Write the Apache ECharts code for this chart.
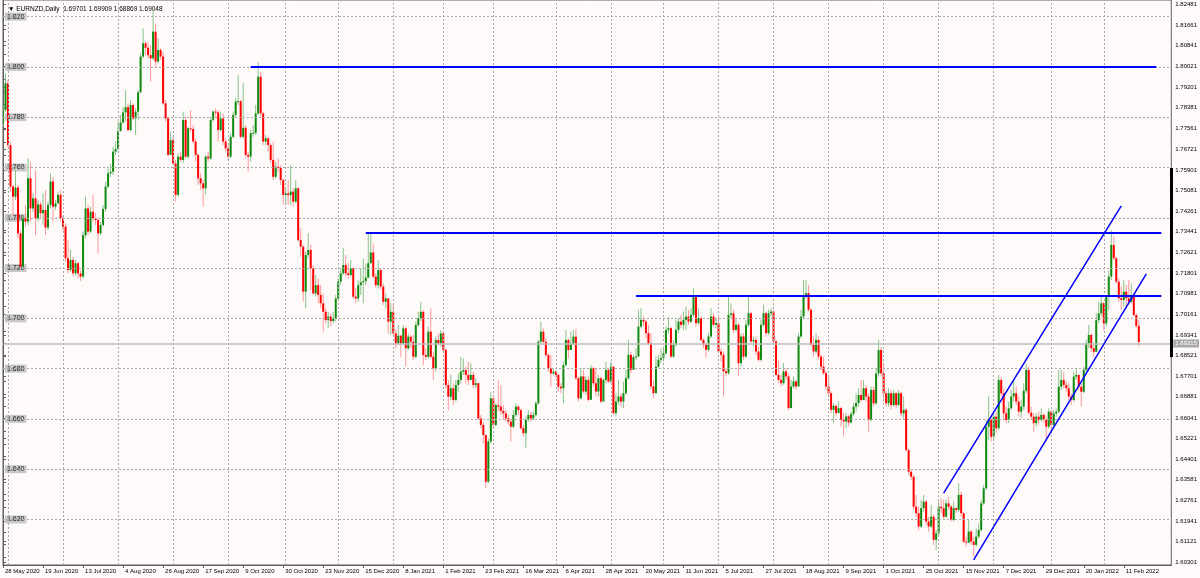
<!DOCTYPE html>
<html><head><meta charset="utf-8">
<script src="https://cdn.jsdelivr.net/npm/echarts@6/dist/echarts.min.js"></script>
<style>html,body{margin:0;padding:0;background:#fffafa;}#c{width:1200px;height:578px;}</style>
</head><body><div id="c"></div>
<script>
// ---------- chart text ----------
const symbolName = 'EURNZD,Daily';
const headerValues = ['1.69701', '1.69909', '1.68869', '1.69048'];

// ---------- x axis (bar index based) ----------
const dateLabels = ['28 May 2020','19 Jun 2020','13 Jul 2020','4 Aug 2020','26 Aug 2020','17 Sep 2020','9 Oct 2020','30 Oct 2020','23 Nov 2020','15 Dec 2020','8 Jan 2021','1 Feb 2021','23 Feb 2021','16 Mar 2021','6 Apr 2021','28 Apr 2021','20 May 2021','11 Jun 2021','5 Jul 2021','27 Jul 2021','18 Aug 2021','9 Sep 2021','1 Oct 2021','25 Oct 2021','15 Nov 2021','7 Dec 2021','29 Dec 2021','20 Jan 2022','11 Feb 2022'];
const labelEveryBars = 16;
const monthStartBars = [2,24,46,68,90,113,134,156,176,196,221,243,264,286,308,330,352,374,396,419,440];

// ---------- price axis labels ----------
const rightAxisLabels = [1.82481,1.81661,1.80841,1.80021,1.79201,1.78381,1.77561,1.76721,1.75901,1.75081,1.74261,1.73441,1.72621,1.71801,1.70981,1.70161,1.69341,1.68521,1.67701,1.66881,1.66041,1.65221,1.64401,1.63581,1.62761,1.61941,1.61121,1.60301];
const leftLevels = [1.620,1.640,1.660,1.680,1.700,1.720,1.740,1.760,1.780,1.800,1.820];
const leftMinorTicks = [1.605,1.610,1.615,1.620,1.625,1.630,1.635,1.640,1.645,1.650,1.655,1.660,1.665,1.670,1.675,1.680,1.685,1.690,1.695,1.700,1.705,1.710,1.715,1.720,1.725,1.730,1.735,1.740,1.745,1.750,1.755,1.760,1.765,1.770,1.775,1.780,1.785,1.790,1.795,1.800,1.805,1.810,1.815,1.820,1.825];
const bidPrice = 1.69215;
const priceScaleMarker = [1.7598, 1.6846];

// ---------- daily OHLC (bar 0 = 28 May 2020) ----------
const opens = [
1.7775,1.7828,1.7935,1.7689,1.7524,1.7484,1.7520,1.7338,1.7206,1.7398,
1.7385,1.7557,1.7437,1.7477,1.7398,1.7453,1.7418,1.7431,1.7361,1.7451,
1.7544,1.7444,1.7457,1.7491,1.7398,1.7365,1.7239,1.7192,1.7232,1.7179,
1.7219,1.7179,1.7166,1.7331,1.7437,1.7345,1.7424,1.7398,1.7391,1.7338,
1.7371,1.7435,1.7524,1.7577,1.7583,1.7663,1.7673,1.7745,1.7779,1.7819,
1.7840,1.7749,1.7848,1.7795,1.7822,1.7899,1.8041,1.8094,1.8076,1.8047,
1.8034,1.8140,1.8021,1.8067,1.8041,1.7855,1.7795,1.7650,1.7709,1.7616,
1.7491,1.7643,1.7630,1.7789,1.7643,1.7756,1.7753,1.7703,1.7650,1.7557,
1.7537,1.7517,1.7643,1.7636,1.7789,1.7822,1.7819,1.7749,1.7795,1.7703,
1.7676,1.7643,1.7722,1.7809,1.7862,1.7864,1.7722,1.7758,1.7650,1.7643,
1.7736,1.7738,1.7815,1.7961,1.7815,1.7703,1.7716,1.7689,1.7630,1.7563,
1.7603,1.7599,1.7550,1.7491,1.7497,1.7490,1.7504,1.7464,1.7517,1.7311,
1.7285,1.7106,1.7252,1.7272,1.7199,1.7099,1.7132,1.7093,1.7060,1.7026,
1.6993,1.7007,1.6989,1.7000,1.7079,1.7146,1.7179,1.7212,1.7179,1.7172,
1.7199,1.7086,1.7079,1.7132,1.7143,1.7148,1.7162,1.7219,1.7262,1.7166,
1.7132,1.7192,1.7126,1.7066,1.7079,1.6987,1.7026,1.6940,1.6900,1.6931,
1.6900,1.6960,1.6881,1.6927,1.6907,1.6847,1.6973,1.7000,1.7026,1.6854,
1.6847,1.6947,1.6847,1.6801,1.6914,1.6900,1.6940,1.6874,1.6735,1.6688,
1.6722,1.6675,1.6735,1.6755,1.6788,1.6794,1.6775,1.6755,1.6775,1.6735,
1.6742,1.6602,1.6576,1.6536,1.6350,1.6510,1.6682,1.6576,1.6655,1.6649,
1.6632,1.6622,1.6602,1.6589,1.6569,1.6616,1.6649,1.6635,1.6563,1.6543,
1.6596,1.6616,1.6602,1.6616,1.6662,1.6907,1.6947,1.6907,1.6854,1.6801,
1.6781,1.6788,1.6775,1.6728,1.6722,1.6814,1.6914,1.6874,1.6900,1.6927,
1.6762,1.6682,1.6769,1.6709,1.6755,1.6676,1.6802,1.6742,1.6709,1.6762,
1.6669,1.6755,1.6795,1.6749,1.6808,1.6623,1.6669,1.6689,1.6669,1.6702,
1.6762,1.6855,1.6795,1.6846,1.6848,1.6967,1.6994,1.6987,1.6941,1.6901,
1.6729,1.6702,1.6808,1.6835,1.6842,1.6861,1.6954,1.6961,1.6848,1.6895,
1.6954,1.6987,1.6974,1.6994,1.7007,1.6987,1.7014,1.7087,1.6981,1.7001,
1.6914,1.6895,1.6875,1.6928,1.7007,1.6974,1.6981,1.6868,1.6855,1.6789,
1.6782,1.7014,1.7020,1.6954,1.6974,1.6822,1.6928,1.6848,1.6974,1.7020,
1.6908,1.6914,1.6868,1.6835,1.6974,1.7020,1.6941,1.7020,1.7027,1.6908,
1.6775,1.6755,1.6742,1.6789,1.6769,1.6643,1.6729,1.6749,1.6729,1.6928,
1.7007,1.7093,1.7100,1.7034,1.6895,1.6868,1.6914,1.6848,1.6808,1.6782,
1.6729,1.6702,1.6636,1.6652,1.6623,1.6643,1.6596,1.6590,1.6610,1.6586,
1.6620,1.6649,1.6663,1.6695,1.6675,1.6722,1.6689,1.6596,1.6715,1.6662,
1.6781,1.6874,1.6781,1.6702,1.6662,1.6702,1.6655,1.6702,1.6655,1.6702,
1.6622,1.6636,1.6476,1.6390,1.6370,1.6251,1.6225,1.6172,1.6245,1.6271,
1.6192,1.6172,1.6211,1.6119,1.6145,1.6251,1.6245,1.6211,1.6264,1.6251,
1.6198,1.6245,1.6238,1.6298,1.6225,1.6112,1.6108,1.6152,1.6112,1.6099,
1.6132,1.6158,1.6264,1.6324,1.6569,1.6596,1.6529,1.6609,1.6563,1.6755,
1.6702,1.6622,1.6596,1.6642,1.6689,1.6702,1.6669,1.6629,1.6649,1.6712,
1.6795,1.6625,1.6609,1.6583,1.6609,1.6596,1.6616,1.6596,1.6569,1.6629,
1.6576,1.6622,1.6629,1.6728,1.6755,1.6735,1.6722,1.6689,1.6675,1.6768,
1.6775,1.6728,1.6708,1.6795,1.6901,1.6934,1.6881,1.6867,1.6993,1.7020,
1.7060,1.6980,1.7086,1.7166,1.7292,1.7239,1.7146,1.7080,1.7073,1.7106,
1.7080,1.7066,1.7086,1.7013,1.6970];
const highs = [
1.7848,1.7974,1.7948,1.7703,1.7530,1.7590,1.7530,1.7351,1.7411,1.7451,
1.7636,1.7623,1.7497,1.7590,1.7471,1.7464,1.7497,1.7510,1.7464,1.7577,
1.7563,1.7471,1.7504,1.7510,1.7411,1.7378,1.7312,1.7272,1.7245,1.7232,
1.7225,1.7192,1.7345,1.7484,1.7451,1.7444,1.7491,1.7418,1.7398,1.7385,
1.7451,1.7544,1.7597,1.7616,1.7683,1.7703,1.7782,1.7809,1.7842,1.7908,
1.7855,1.7868,1.7855,1.7835,1.7908,1.8054,1.8153,1.8100,1.8100,1.8087,
1.8222,1.8173,1.8113,1.8074,1.8060,1.7868,1.7802,1.7742,1.7722,1.7630,
1.7656,1.7663,1.7822,1.7802,1.7762,1.7828,1.7769,1.7716,1.7656,1.7577,
1.7550,1.7650,1.7663,1.7802,1.7828,1.7835,1.7828,1.7822,1.7815,1.7716,
1.7689,1.7736,1.7822,1.7875,1.7968,1.7868,1.7935,1.7769,1.7663,1.7749,
1.7769,1.7848,1.8018,1.7981,1.7822,1.7729,1.7722,1.7696,1.7703,1.7623,
1.7636,1.7610,1.7557,1.7517,1.7550,1.7610,1.7517,1.7550,1.7523,1.7358,
1.7292,1.7265,1.7338,1.7292,1.7212,1.7172,1.7159,1.7132,1.7099,1.7040,
1.7026,1.7020,1.7026,1.7093,1.7159,1.7199,1.7281,1.7252,1.7219,1.7232,
1.7205,1.7119,1.7152,1.7199,1.7238,1.7219,1.7338,1.7345,1.7298,1.7179,
1.7232,1.7199,1.7139,1.7099,1.7073,1.7060,1.7060,1.6954,1.6973,1.6934,
1.6973,1.6967,1.6940,1.6934,1.6934,1.6987,1.7026,1.7066,1.7033,1.6881,
1.6967,1.7040,1.6867,1.6927,1.6940,1.6954,1.6947,1.6881,1.6755,1.6775,
1.6742,1.6755,1.6781,1.6847,1.6841,1.6808,1.6828,1.6821,1.6788,1.6761,
1.6742,1.6616,1.6589,1.6529,1.6523,1.6708,1.6682,1.6662,1.6755,1.6735,
1.6655,1.6635,1.6616,1.6602,1.6635,1.6662,1.6655,1.6642,1.6576,1.6609,
1.6635,1.6629,1.6629,1.6669,1.6914,1.6987,1.6960,1.6920,1.6861,1.6854,
1.6801,1.6794,1.6781,1.6742,1.6828,1.6954,1.6920,1.6947,1.6954,1.6957,
1.6769,1.6802,1.6795,1.6769,1.6769,1.6815,1.6808,1.6802,1.6775,1.6769,
1.6762,1.6828,1.6802,1.6828,1.6795,1.6702,1.6755,1.6702,1.6749,1.6795,
1.6914,1.6868,1.6855,1.6881,1.7034,1.7040,1.7007,1.6994,1.6974,1.6941,
1.6755,1.6848,1.6855,1.6881,1.6888,1.6967,1.7007,1.6967,1.6914,1.6994,
1.7001,1.7014,1.7027,1.7047,1.7034,1.7040,1.7120,1.7093,1.7040,1.7007,
1.6921,1.6901,1.6941,1.7040,1.7020,1.7001,1.7007,1.6881,1.6868,1.6802,
1.7093,1.7060,1.7034,1.7001,1.6981,1.6941,1.6941,1.6994,1.7093,1.7027,
1.6928,1.6928,1.6888,1.6994,1.7054,1.7027,1.7034,1.7040,1.7034,1.6914,
1.6835,1.6775,1.6822,1.6802,1.6782,1.6755,1.6769,1.6755,1.6941,1.7034,
1.7153,1.7153,1.7133,1.7040,1.6928,1.6941,1.6928,1.6855,1.6848,1.6789,
1.6769,1.6709,1.6663,1.6656,1.6669,1.6649,1.6623,1.6623,1.6616,1.6629,
1.6663,1.6702,1.6722,1.6755,1.6755,1.6735,1.6702,1.6728,1.6728,1.6801,
1.6914,1.6887,1.6821,1.6715,1.6722,1.6715,1.6715,1.6708,1.6715,1.6708,
1.6689,1.6642,1.6483,1.6397,1.6377,1.6298,1.6251,1.6278,1.6298,1.6278,
1.6211,1.6258,1.6218,1.6158,1.6271,1.6284,1.6278,1.6278,1.6291,1.6258,
1.6271,1.6251,1.6344,1.6311,1.6231,1.6132,1.6198,1.6158,1.6132,1.6165,
1.6185,1.6278,1.6337,1.6596,1.6689,1.6609,1.6622,1.6629,1.6775,1.6768,
1.6722,1.6649,1.6669,1.6715,1.6755,1.6728,1.6689,1.6675,1.6742,1.6821,
1.6808,1.6649,1.6622,1.6622,1.6629,1.6642,1.6622,1.6609,1.6642,1.6636,
1.6636,1.6642,1.6795,1.6795,1.6788,1.6748,1.6742,1.6702,1.6788,1.6801,
1.6775,1.6742,1.6808,1.6914,1.6974,1.6940,1.6894,1.7020,1.7066,1.7086,
1.7066,1.7093,1.7192,1.7351,1.7325,1.7245,1.7159,1.7126,1.7152,1.7133,
1.7152,1.7139,1.7073,1.7020,1.6991];
const lows = [
1.7762,1.7822,1.7676,1.7504,1.7411,1.7471,1.7318,1.7192,1.7199,1.7365,
1.7371,1.7385,1.7424,1.7331,1.7385,1.7398,1.7371,1.7331,1.7351,1.7437,
1.7385,1.7431,1.7464,1.7385,1.7345,1.7225,1.7179,1.7186,1.7166,1.7172,
1.7159,1.7149,1.7159,1.7318,1.7331,1.7338,1.7385,1.7371,1.7259,1.7331,
1.7365,1.7424,1.7517,1.7563,1.7570,1.7650,1.7669,1.7742,1.7775,1.7782,
1.7742,1.7742,1.7789,1.7729,1.7789,1.7895,1.8034,1.8047,1.8034,1.7941,
1.8027,1.8001,1.8014,1.8027,1.7848,1.7782,1.7643,1.7676,1.7610,1.7464,
1.7484,1.7623,1.7616,1.7636,1.7636,1.7742,1.7696,1.7623,1.7530,1.7510,
1.7444,1.7491,1.7623,1.7630,1.7782,1.7802,1.7703,1.7742,1.7689,1.7663,
1.7630,1.7636,1.7716,1.7802,1.7848,1.7716,1.7716,1.7636,1.7583,1.7623,
1.7722,1.7729,1.7809,1.7802,1.7689,1.7689,1.7663,1.7616,1.7550,1.7557,
1.7583,1.7530,1.7451,1.7451,1.7451,1.7451,1.7444,1.7457,1.7305,1.7245,
1.7066,1.7040,1.7238,1.7113,1.7093,1.7086,1.7060,1.7040,1.6947,1.6980,
1.6960,1.6967,1.6980,1.6987,1.7073,1.7132,1.7172,1.7166,1.7159,1.7166,
1.7079,1.7060,1.7066,1.7093,1.7060,1.7132,1.7159,1.7219,1.7159,1.7119,
1.7119,1.7113,1.7053,1.7040,1.6940,1.6934,1.6934,1.6881,1.6894,1.6847,
1.6894,1.6808,1.6874,1.6881,1.6834,1.6841,1.6967,1.6987,1.6814,1.6834,
1.6841,1.6841,1.6755,1.6788,1.6894,1.6887,1.6861,1.6722,1.6635,1.6675,
1.6655,1.6669,1.6708,1.6741,1.6775,1.6741,1.6735,1.6755,1.6722,1.6722,
1.6596,1.6563,1.6503,1.6324,1.6344,1.6503,1.6563,1.6569,1.6629,1.6616,
1.6596,1.6589,1.6576,1.6510,1.6563,1.6609,1.6616,1.6556,1.6529,1.6483,
1.6589,1.6589,1.6596,1.6609,1.6655,1.6900,1.6894,1.6847,1.6788,1.6728,
1.6775,1.6761,1.6708,1.6702,1.6662,1.6808,1.6841,1.6874,1.6894,1.6755,
1.6669,1.6676,1.6702,1.6696,1.6669,1.6676,1.6729,1.6689,1.6689,1.6663,
1.6669,1.6742,1.6742,1.6742,1.6616,1.6609,1.6656,1.6649,1.6643,1.6696,
1.6755,1.6782,1.6795,1.6835,1.6846,1.6961,1.6967,1.6921,1.6895,1.6716,
1.6682,1.6702,1.6802,1.6822,1.6828,1.6855,1.6941,1.6842,1.6842,1.6888,
1.6941,1.6961,1.6954,1.6954,1.6974,1.6981,1.7007,1.6967,1.6974,1.6908,
1.6881,1.6842,1.6868,1.6921,1.6967,1.6961,1.6861,1.6828,1.6689,1.6769,
1.6775,1.7001,1.6941,1.6948,1.6769,1.6808,1.6835,1.6842,1.6967,1.6901,
1.6888,1.6855,1.6828,1.6828,1.6967,1.6928,1.6934,1.7007,1.6895,1.6769,
1.6742,1.6729,1.6735,1.6755,1.6636,1.6643,1.6722,1.6716,1.6729,1.6921,
1.7001,1.7080,1.7027,1.6888,1.6848,1.6861,1.6835,1.6795,1.6775,1.6716,
1.6696,1.6623,1.6583,1.6610,1.6623,1.6570,1.6530,1.6563,1.6570,1.6583,
1.6610,1.6629,1.6649,1.6669,1.6675,1.6669,1.6549,1.6589,1.6649,1.6655,
1.6768,1.6768,1.6669,1.6649,1.6649,1.6636,1.6649,1.6642,1.6649,1.6609,
1.6596,1.6470,1.6377,1.6357,1.6238,1.6211,1.6158,1.6165,1.6231,1.6178,
1.6152,1.6165,1.6099,1.6079,1.6132,1.6225,1.6198,1.6205,1.6238,1.6192,
1.6192,1.6225,1.6231,1.6211,1.6105,1.6092,1.6105,1.6099,1.6052,1.6092,
1.6125,1.6152,1.6258,1.6317,1.6516,1.6510,1.6516,1.6543,1.6556,1.6689,
1.6596,1.6583,1.6583,1.6636,1.6669,1.6655,1.6609,1.6602,1.6636,1.6702,
1.6616,1.6596,1.6549,1.6569,1.6576,1.6589,1.6583,1.6523,1.6563,1.6543,
1.6569,1.6609,1.6622,1.6715,1.6722,1.6708,1.6675,1.6655,1.6669,1.6755,
1.6715,1.6649,1.6702,1.6788,1.6881,1.6867,1.6848,1.6867,1.6980,1.7007,
1.6954,1.6967,1.7033,1.7152,1.7232,1.7139,1.7066,1.7033,1.7046,1.7040,
1.7053,1.7060,1.7007,1.6960,1.6887];
const closes = [
1.7828,1.7935,1.7689,1.7524,1.7484,1.7520,1.7338,1.7206,1.7398,1.7385,
1.7557,1.7437,1.7477,1.7398,1.7453,1.7418,1.7431,1.7361,1.7451,1.7544,
1.7444,1.7457,1.7491,1.7398,1.7365,1.7239,1.7192,1.7232,1.7179,1.7219,
1.7179,1.7166,1.7331,1.7437,1.7345,1.7424,1.7398,1.7391,1.7338,1.7371,
1.7435,1.7524,1.7577,1.7583,1.7663,1.7673,1.7745,1.7779,1.7819,1.7840,
1.7749,1.7848,1.7795,1.7822,1.7899,1.8041,1.8094,1.8076,1.8047,1.8034,
1.8140,1.8021,1.8067,1.8041,1.7855,1.7795,1.7650,1.7709,1.7616,1.7491,
1.7643,1.7630,1.7789,1.7643,1.7756,1.7753,1.7703,1.7650,1.7557,1.7537,
1.7517,1.7643,1.7636,1.7789,1.7822,1.7819,1.7749,1.7795,1.7703,1.7676,
1.7643,1.7722,1.7809,1.7862,1.7864,1.7722,1.7758,1.7650,1.7643,1.7736,
1.7738,1.7815,1.7961,1.7815,1.7703,1.7716,1.7689,1.7630,1.7563,1.7603,
1.7599,1.7550,1.7491,1.7497,1.7490,1.7504,1.7464,1.7517,1.7311,1.7285,
1.7106,1.7252,1.7272,1.7199,1.7099,1.7132,1.7093,1.7060,1.7026,1.6993,
1.7007,1.6989,1.7000,1.7079,1.7146,1.7179,1.7212,1.7179,1.7172,1.7199,
1.7086,1.7079,1.7132,1.7143,1.7148,1.7162,1.7219,1.7262,1.7166,1.7132,
1.7192,1.7126,1.7066,1.7079,1.6987,1.7026,1.6940,1.6900,1.6931,1.6900,
1.6960,1.6881,1.6927,1.6907,1.6847,1.6973,1.7000,1.7026,1.6854,1.6847,
1.6947,1.6847,1.6801,1.6914,1.6900,1.6940,1.6874,1.6735,1.6688,1.6722,
1.6675,1.6735,1.6755,1.6788,1.6794,1.6775,1.6755,1.6775,1.6735,1.6742,
1.6602,1.6576,1.6536,1.6350,1.6510,1.6682,1.6576,1.6655,1.6649,1.6632,
1.6622,1.6602,1.6589,1.6569,1.6616,1.6649,1.6635,1.6563,1.6543,1.6596,
1.6616,1.6602,1.6616,1.6662,1.6907,1.6947,1.6907,1.6854,1.6801,1.6781,
1.6788,1.6775,1.6728,1.6722,1.6814,1.6914,1.6874,1.6900,1.6927,1.6762,
1.6682,1.6769,1.6709,1.6755,1.6676,1.6802,1.6742,1.6709,1.6762,1.6669,
1.6755,1.6795,1.6749,1.6808,1.6623,1.6669,1.6689,1.6669,1.6702,1.6762,
1.6855,1.6795,1.6846,1.6848,1.6967,1.6994,1.6987,1.6941,1.6901,1.6729,
1.6702,1.6808,1.6835,1.6842,1.6861,1.6954,1.6961,1.6848,1.6895,1.6954,
1.6987,1.6974,1.6994,1.7007,1.6987,1.7014,1.7087,1.6981,1.7001,1.6914,
1.6895,1.6875,1.6928,1.7007,1.6974,1.6981,1.6868,1.6855,1.6789,1.6782,
1.7014,1.7020,1.6954,1.6974,1.6822,1.6928,1.6848,1.6974,1.7020,1.6908,
1.6914,1.6868,1.6835,1.6974,1.7020,1.6941,1.7020,1.7027,1.6908,1.6775,
1.6755,1.6742,1.6789,1.6769,1.6643,1.6729,1.6749,1.6729,1.6928,1.7007,
1.7093,1.7100,1.7034,1.6895,1.6868,1.6914,1.6848,1.6808,1.6782,1.6729,
1.6702,1.6636,1.6652,1.6623,1.6643,1.6596,1.6590,1.6610,1.6586,1.6620,
1.6649,1.6663,1.6695,1.6675,1.6722,1.6689,1.6596,1.6715,1.6662,1.6781,
1.6874,1.6781,1.6702,1.6662,1.6702,1.6655,1.6702,1.6655,1.6702,1.6622,
1.6636,1.6476,1.6390,1.6370,1.6251,1.6225,1.6172,1.6245,1.6271,1.6192,
1.6172,1.6211,1.6119,1.6145,1.6251,1.6245,1.6211,1.6264,1.6251,1.6198,
1.6245,1.6238,1.6298,1.6225,1.6112,1.6108,1.6152,1.6112,1.6099,1.6132,
1.6158,1.6264,1.6324,1.6569,1.6596,1.6529,1.6609,1.6563,1.6755,1.6702,
1.6622,1.6596,1.6642,1.6689,1.6702,1.6669,1.6629,1.6649,1.6712,1.6795,
1.6625,1.6609,1.6583,1.6609,1.6596,1.6616,1.6596,1.6569,1.6629,1.6576,
1.6622,1.6629,1.6728,1.6755,1.6735,1.6722,1.6689,1.6675,1.6768,1.6775,
1.6728,1.6708,1.6795,1.6901,1.6934,1.6881,1.6867,1.6993,1.7020,1.7060,
1.6980,1.7086,1.7166,1.7292,1.7239,1.7146,1.7080,1.7073,1.7106,1.7080,
1.7066,1.7086,1.7013,1.6970,1.6905];

// ---------- drawn objects (bar index, price) ----------
const levelLines = [
  {price: 1.8000, fromBar: 99,  toBar: 461},
  {price: 1.7340, fromBar: 145, toBar: 463},
  {price: 1.7091, fromBar: 253, toBar: 463}
];
const channelUpper = [[376, 1.6305], [447, 1.7447]];
const channelLower = [[388, 1.6039], [457, 1.7177]];

// ---------- rendering ----------
const FONT = '"Liberation Sans", Arial, sans-serif';
const Y_MIN = 1.6019, Y_MAX = 1.8266, X_MAX = 467;
const xTickBars = dateLabels.map((_, k) => k * labelEveryBars);

const candleData = closes.map((c, i) => [i, opens[i], c, lows[i], highs[i]]);

function renderCandle(params, api) {
  const x = api.value(0), o = api.value(1), c = api.value(2);
  const l = Math.min(api.value(3), o, c), h = Math.max(api.value(4), o, c);
  const pO = api.coord([x, o]), pC = api.coord([x, c]);
  const pL = api.coord([x, l]), pH = api.coord([x, h]);
  const up = c >= o;
  const top = Math.min(pO[1], pC[1]);
  const hgt = Math.max(1, Math.abs(pO[1] - pC[1]));
  const w = 2;
  return {
    type: 'group',
    children: [
      {type: 'line', shape: {x1: pH[0], y1: pH[1], x2: pL[0], y2: pL[1]},
       style: {stroke: up ? '#86c486' : '#ff9898', lineWidth: 1}},
      {type: 'rect', shape: {x: pO[0] - w / 2, y: top, width: w, height: hgt},
       style: {fill: up ? '#0f8a0f' : '#ff0000'}}
    ]
  };
}

const chart = echarts.init(document.getElementById('c'), null, {renderer: 'canvas'});
chart.setOption({
  backgroundColor: '#fffafa',
  animation: false,
  textStyle: {fontFamily: FONT},
  title: {
    text: '\u25BC ' + symbolName + '  ' + headerValues.join(' '),
    left: 3, top: 1,
    textStyle: {fontSize: 6.5, fontWeight: 'normal', color: '#000', fontFamily: FONT}
  },
  grid: {left: 3, right: 28, top: 0, bottom: 13, show: true, borderColor: '#606060', borderWidth: 1},
  xAxis: {
    type: 'value', min: 0, max: X_MAX,
    axisLine: {show: true, lineStyle: {color: '#606060'}},
    axisTick: {show: true, length: 3, customValues: xTickBars, lineStyle: {color: '#606060'}},
    axisLabel: {customValues: xTickBars, formatter: v => dateLabels[Math.round(v / labelEveryBars)] || '',
      fontSize: 6, color: '#000', align: 'left', margin: 3, padding: [0, 0, 0, 2], fontFamily: FONT},
    splitLine: {show: false}
  },
  yAxis: [
    {
      type: 'value', position: 'right', min: Y_MIN, max: Y_MAX, scale: true,
      axisLine: {show: true, lineStyle: {color: '#606060'}},
      axisTick: {show: true, length: 3, customValues: rightAxisLabels, lineStyle: {color: '#606060'}},
      axisLabel: {customValues: rightAxisLabels, formatter: v => v.toFixed(5), fontSize: 6, color: '#000', margin: 4, fontFamily: FONT},
      splitLine: {show: false}
    },
    {
      type: 'value', position: 'left', min: Y_MIN, max: Y_MAX, scale: true,
      axisLine: {show: false},
      axisTick: {show: true, inside: true, length: 3, customValues: leftMinorTicks, lineStyle: {color: '#606060'}},
      axisLabel: {inside: true, customValues: leftLevels, formatter: v => v.toFixed(3), fontSize: 7, color: '#202020',
        backgroundColor: '#c8c8c8', padding: [1, 2, 0, 2], margin: 2, fontFamily: FONT},
      splitLine: {show: false}
    }
  ],
  series: [
    {
      name: 'grid', type: 'line', data: [], z: 1, silent: true,
      markLine: {
        silent: true, symbol: 'none', animation: false, label: {show: false},
        lineStyle: {color: '#a8a8a8', type: [2, 2], width: 1},
        data: leftLevels.map(v => ({yAxis: v})).concat(monthStartBars.map(b => ({xAxis: b})))
      }
    },
    {
      name: 'bid', type: 'line', data: [], z: 2, silent: true,
      markLine: {
        silent: true, symbol: 'none', animation: false,
        data: [{
          yAxis: bidPrice,
          lineStyle: {color: '#bdbdbd', width: 1.5, type: 'solid'},
          label: {show: true, position: 'end', formatter: bidPrice.toFixed(5), distance: 2,
            backgroundColor: '#a8a8a8', color: '#ffffff', fontSize: 6, padding: [1, 2], fontFamily: FONT}
        }]
      }
    },
    {
      name: 'EURNZD', type: 'custom', renderItem: renderCandle, data: candleData, z: 3, clip: true,
      encode: {x: 0, y: [1, 2, 3, 4]}
    },
    {
      name: 'objects', type: 'line', data: [], z: 4, silent: true,
      markLine: {
        silent: true, symbol: 'none', animation: false, label: {show: false},
        lineStyle: {color: '#0000ff', width: 2, type: 'solid'},
        data: levelLines.map(l => [{coord: [l.fromBar, l.price]}, {coord: [l.toBar, l.price]}]).concat([
          [{coord: channelUpper[0], lineStyle: {width: 1.5}}, {coord: channelUpper[1]}],
          [{coord: channelLower[0], lineStyle: {width: 1.5}}, {coord: channelLower[1]}],
          [{coord: [X_MAX, priceScaleMarker[0]], lineStyle: {color: '#000000', width: 3}}, {coord: [X_MAX, priceScaleMarker[1]]}]
        ])
      }
    }
  ]
});
</script>
</body></html>
